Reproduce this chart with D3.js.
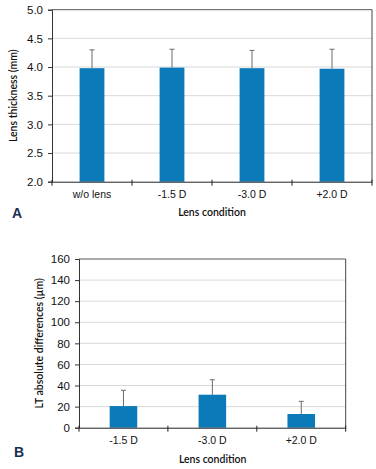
<!DOCTYPE html>
<html>
<head>
<meta charset="utf-8">
<script src="https://cdn.jsdelivr.net/npm/d3@7"></script>
<style>
  body { margin: 0; background: #fff; }
  svg { display: block; font-family: Lato, "Open Sans", sans-serif; }
</style>
</head>
<body>
<svg width="376" height="469"></svg>
<script>
// Panel A data
const catsA = ["w/o lens", "-1.5 D", "-3.0 D", "+2.0 D"];
const valsA = [3.98, 3.99, 3.98, 3.97];
const errA = [0.32, 0.32, 0.31, 0.34];
const ticksA = [2.0, 2.5, 3.0, 3.5, 4.0, 4.5, 5.0];

// Panel B data
const catsB = ["-1.5 D", "-3.0 D", "+2.0 D"];
const valsB = [20.5, 31.3, 13];
const errB = [15, 14.2, 12];
const ticksB = [0, 20, 40, 60, 80, 100, 120, 140, 160];

var svg = d3.select("svg");
var barColor = "#0b7ab8";

function drawChart(opt) {
    var g = svg.append("g");
    var x = d3.scaleBand().domain(opt.cats).range([opt.left, opt.right]);
    var y = d3.scaleLinear().domain(opt.domain).range([opt.bottom, opt.top]);

    // gridlines
    g.selectAll(".grid")
        .data(opt.ticks.slice(1, -1))
        .enter().append("line")
        .attr("x1", opt.left).attr("x2", opt.right)
        .attr("y1", d => y(d)).attr("y2", d => y(d))
        .attr("stroke", "#d9d9d9").attr("stroke-width", 1);

    // frame top / right
    g.append("line")
        .attr("x1", opt.left).attr("x2", opt.right)
        .attr("y1", opt.top).attr("y2", opt.top)
        .attr("stroke", "#555").attr("stroke-width", 1);
    g.append("line")
        .attr("x1", opt.right).attr("x2", opt.right)
        .attr("y1", opt.top).attr("y2", opt.bottom)
        .attr("stroke", "#444").attr("stroke-width", 1);

    // error bars (upward only)
    var cx = d => x(d) + x.bandwidth() / 2;
    opt.cats.forEach(function (c, i) {
        var top = y(opt.vals[i] + opt.errs[i]);
        g.append("line")
            .attr("x1", cx(c)).attr("x2", cx(c))
            .attr("y1", y(opt.vals[i])).attr("y2", top)
            .attr("stroke", "#6b6b6b").attr("stroke-width", 1);
        g.append("line")
            .attr("x1", cx(c) - 2.5).attr("x2", cx(c) + 2.5)
            .attr("y1", top).attr("y2", top)
            .attr("stroke", "#6b6b6b").attr("stroke-width", 1);
    });

    // bars
    var bw = x.bandwidth() * opt.barFrac;
    g.selectAll(".bar")
        .data(opt.cats)
        .enter().append("rect")
        .attr("fill", barColor)
        .attr("x", d => cx(d) - bw / 2)
        .attr("y", (d, i) => y(opt.vals[i]))
        .attr("width", bw)
        .attr("height", (d, i) => opt.bottom - y(opt.vals[i]));

    // y axis
    var yAxis = g.append("g")
        .attr("transform", "translate(" + opt.left + ",0)")
        .call(d3.axisLeft(y).tickValues(opt.ticks).tickFormat(opt.fmt).tickSize(4).tickPadding(5));
    yAxis.select(".domain").attr("stroke", "#333");
    yAxis.selectAll(".tick line").attr("stroke", "#333");
    yAxis.selectAll("text").attr("font-size", "11.5px").attr("fill", "#111");

    // x axis with boundary ticks crossing the axis
    var xAxis = g.append("g")
        .attr("transform", "translate(0," + opt.bottom + ")")
        .call(d3.axisBottom(x).tickSize(0).tickPadding(9));
    xAxis.select(".domain").attr("stroke", "#222");
    xAxis.selectAll("text").attr("font-size", "10.5px").attr("fill", "#111");
    var bounds = x.domain().slice(1).map(d => x(d)).concat([opt.left, opt.right]);
    g.selectAll(".xb")
        .data(bounds)
        .enter().append("line")
        .attr("x1", d => d).attr("x2", d => d)
        .attr("y1", opt.bottom - 2).attr("y2", opt.bottom + 4)
        .attr("stroke", "#222");

    // titles
    g.append("text")
        .attr("transform", "translate(" + opt.yTitleX + "," + ((opt.top + opt.bottom) / 2) + ") rotate(-90)")
        .attr("text-anchor", "middle")
        .attr("dy", "0.35em")
        .attr("font-size", "10.5px")
        .attr("font-weight", "600")
        .attr("fill", "#111")
        .text(opt.yTitle);
    g.append("text")
        .attr("x", opt.xTitleX).attr("y", opt.xTitleY)
        .attr("text-anchor", "middle")
        .attr("dy", "0.35em")
        .attr("font-size", "10.5px")
        .attr("font-weight", "600")
        .attr("fill", "#111")
        .text("Lens condition");
    g.append("text")
        .attr("x", opt.labelX).attr("y", opt.labelY)
        .attr("dy", "0.35em")
        .attr("font-size", "14px")
        .attr("font-weight", "bold")
        .attr("font-family", "Liberation Sans, Arial, sans-serif")
        .attr("fill", "#1b2d55")
        .text(opt.label);
}

drawChart({
    cats: catsA, vals: valsA, errs: errA, ticks: ticksA,
    domain: [2, 5], fmt: d3.format(".1f"),
    left: 52, right: 372, top: 9.7, bottom: 181.7, barFrac: 0.31,
    yTitle: "Lens thickness (mm)", yTitleX: 13,
    xTitleX: 212, xTitleY: 212,
    label: "A", labelX: 12, labelY: 213
});

drawChart({
    cats: catsB, vals: valsB, errs: errB, ticks: ticksB,
    domain: [0, 160], fmt: d3.format("d"),
    left: 79, right: 345.7, top: 259, bottom: 427.7, barFrac: 0.31,
    yTitle: "LT absolute differences (\u00b5m)", yTitleX: 39,
    xTitleX: 212.7, xTitleY: 459.5,
    label: "B", labelX: 14, labelY: 452
});
</script>
</body>
</html>
